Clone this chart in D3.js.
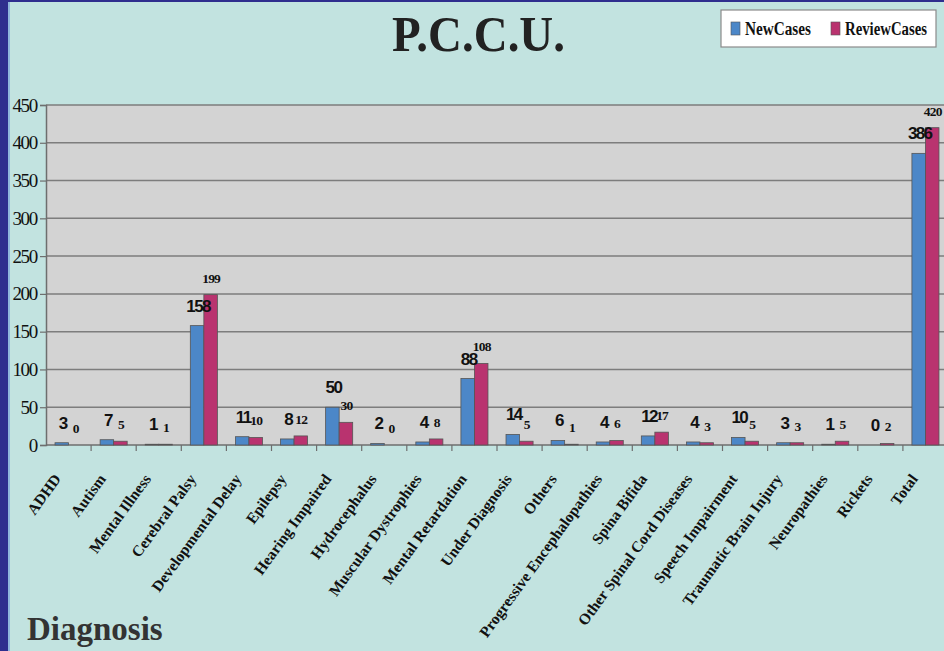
<!DOCTYPE html>
<html>
<head>
<meta charset="utf-8">
<script src="https://cdn.jsdelivr.net/npm/d3@7"></script>
<style>
  html, body { margin: 0; padding: 0; background: #c2e3e0; overflow: hidden; }
</style>
</head>
<body>
<div id="chart"></div>
<script>
// Data
const categories = ['ADHD', 'Autism', 'Mental Illness', 'Cerebral Palsy', 'Developmental Delay',
    'Epilepsy', 'Hearing Impaired', 'Hydrocephalus', 'Muscular Dystrophies', 'Mental Retardation',
    'Under Diagnosis', 'Others', 'Progressive Encephalopathies', 'Spina Bifida',
    'Other Spinal Cord Diseases', 'Speech Impairment', 'Traumatic Brain Injury', 'Neuropathies',
    'Rickets', 'Total']
const newCases = [3, 7, 1, 158, 11, 8, 50, 2, 4, 88, 14, 6, 4, 12, 4, 10, 3, 1, 0, 386]
const reviewCases = [0, 5, 1, 199, 10, 12, 30, 0, 8, 108, 5, 1, 6, 17, 3, 5, 3, 5, 2, 420]
const seriesNames = ['NewCases', 'ReviewCases']
const yTicks = [0, 50, 100, 150, 200, 250, 300, 350, 400, 450]

const WIDTH = 944
const HEIGHT = 651
const PLOT = { left: 46, right: 948, top: 105, bottom: 445 }
const COLORS = ['#4c87c8', '#b9336f']

const svg = d3.select('#chart')
    .append('svg')
    .attr('width', WIDTH)
    .attr('height', HEIGHT)
    .style('display', 'block')

// background + slide border
svg.append('rect').attr('width', WIDTH).attr('height', HEIGHT).attr('fill', '#c2e3e0')
svg.append('rect').attr('x', 8).attr('width', 2).attr('height', HEIGHT).attr('fill', '#8fb7dc')
svg.append('rect').attr('width', 8).attr('height', HEIGHT).attr('fill', '#2e2e8e')
svg.append('rect').attr('width', WIDTH).attr('height', 2).attr('fill', '#2e2e8e')

// Scales
const x0 = d3.scaleBand()
    .domain(categories)
    .range([PLOT.left, PLOT.right])
    .paddingInner(0.4)
    .paddingOuter(0.2)

const x1 = d3.scaleBand()
    .domain(seriesNames)
    .range([0, x0.bandwidth()])

const y = d3.scaleLinear()
    .domain([0, 450])
    .range([PLOT.bottom, PLOT.top])

// plot area
svg.append('rect')
    .attr('x', PLOT.left)
    .attr('y', PLOT.top)
    .attr('width', PLOT.right - PLOT.left)
    .attr('height', PLOT.bottom - PLOT.top)
    .attr('fill', '#d3d3d3')

// gridlines
svg.append('g')
    .selectAll('line')
    .data(yTicks.filter(d => d > 0))
    .join('line')
    .attr('x1', PLOT.left)
    .attr('x2', PLOT.right)
    .attr('y1', d => y(d))
    .attr('y2', d => y(d))
    .attr('stroke', '#7d7d7d')
    .attr('stroke-width', 1.5)

// y axis
const yAxis = svg.append('g')
    .attr('transform', `translate(${PLOT.left},0)`)
    .call(d3.axisLeft(y).tickValues(yTicks).tickSize(6).tickPadding(3))
yAxis.select('.domain').attr('stroke', '#6e6e6e').attr('stroke-width', 1.5)
yAxis.selectAll('.tick line').attr('stroke', '#6e6e6e').attr('stroke-width', 1.2)
yAxis.selectAll('.tick text')
    .attr('font-family', '"Liberation Serif", "Times New Roman", serif')
    .attr('font-size', 19)
    .attr('letter-spacing', -1.3)
    .attr('fill', '#111')

// x axis line + ticks at band boundaries
svg.append('line')
    .attr('x1', PLOT.left).attr('x2', PLOT.right)
    .attr('y1', PLOT.bottom).attr('y2', PLOT.bottom)
    .attr('stroke', '#6e6e6e').attr('stroke-width', 1.5)

svg.append('g')
    .selectAll('line')
    .data(categories.slice(1))
    .join('line')
    .attr('x1', d => x0(d) - x0.step() * 0.2)
    .attr('x2', d => x0(d) - x0.step() * 0.2)
    .attr('y1', PLOT.bottom)
    .attr('y2', PLOT.bottom + 6)
    .attr('stroke', '#6e6e6e')
    .attr('stroke-width', 1.2)

// x labels
svg.append('g')
    .selectAll('text')
    .data(categories)
    .join('text')
    .attr('transform', d => `translate(${x0(d) + x0.bandwidth() / 2 - 7},${PLOT.bottom + 34}) rotate(-54)`)
    .attr('text-anchor', 'end')
    .attr('font-family', '"Liberation Serif", "Times New Roman", serif')
    .attr('font-weight', 'bold')
    .attr('font-size', 15.5)
    .attr('fill', '#111')
    .text(d => d)

// Bars
const groups = svg.append('g')
    .selectAll('g')
    .data(categories.map((c, i) => ({ cat: c, values: [newCases[i], reviewCases[i]] })))
    .join('g')
    .attr('transform', d => `translate(${x0(d.cat)},0)`)

groups.selectAll('rect')
    .data(d => d.values.map((v, j) => ({ key: seriesNames[j], value: v, j })))
    .join('rect')
    .attr('x', d => x1(d.key))
    .attr('y', d => y(d.value))
    .attr('width', x1.bandwidth())
    .attr('height', d => y(0) - y(d.value))
    .attr('fill', d => COLORS[d.j])
    .attr('stroke', '#555')
    .attr('stroke-width', 0.8)

// data labels
groups.selectAll('text')
    .data(d => d.values.map((v, j) => ({ key: seriesNames[j], value: v, j })))
    .join('text')
    .attr('x', d => x1(d.key) + x1.bandwidth() / 2 + (d.j === 0 ? 1 : 0.5))
    .attr('y', d => y(d.value) - (d.j === 0 ? 14 : 12))
    .attr('text-anchor', 'middle')
    .attr('font-family', d => d.j === 0 ? '"Liberation Sans", Arial, sans-serif' : '"Liberation Serif", "Times New Roman", serif')
    .attr('font-weight', 'bold')
    .attr('font-size', d => d.j === 0 ? 17 : 13.5)
    .attr('letter-spacing', d => d.j === 0 ? -1.6 : -0.8)
    .attr('fill', '#111')
    .text(d => d.value)

// Title
svg.append('text')
    .attr('x', 392)
    .attr('y', 51)
    .attr('textLength', 173)
    .attr('lengthAdjust', 'spacingAndGlyphs')
    .attr('font-family', '"Liberation Serif", "Times New Roman", serif')
    .attr('font-weight', 'bold')
    .attr('font-size', 50)
    .attr('fill', '#222')
    .text('P.C.C.U.')

// Legend
const legend = svg.append('g')
legend.append('rect')
    .attr('x', 721).attr('y', 10)
    .attr('width', 215).attr('height', 37)
    .attr('fill', '#fff')
    .attr('stroke', '#8a8a8a')
    .attr('stroke-width', 1.2)

const legendItems = [
    { name: seriesNames[0], sx: 731, tx: 745, tw: 66 },
    { name: seriesNames[1], sx: 831, tx: 845, tw: 82 }
]
legendItems.forEach((d, i) => {
    legend.append('rect')
        .attr('x', d.sx).attr('y', 22)
        .attr('width', 9).attr('height', 13)
        .attr('fill', COLORS[i])
        .attr('stroke', '#555').attr('stroke-width', 0.6)
    legend.append('text')
        .attr('x', d.tx).attr('y', 35)
        .attr('textLength', d.tw)
        .attr('lengthAdjust', 'spacingAndGlyphs')
        .attr('font-family', '"Liberation Serif", "Times New Roman", serif')
        .attr('font-weight', 'bold')
        .attr('font-size', 18)
        .attr('fill', '#111')
        .text(d.name)
})

// Axis caption
svg.append('text')
    .attr('x', 27)
    .attr('y', 640)
    .attr('font-family', '"Liberation Serif", "Times New Roman", serif')
    .attr('font-weight', 'bold')
    .attr('font-size', 33)
    .attr('fill', '#333')
    .text('Diagnosis')
</script>
</body>
</html>
